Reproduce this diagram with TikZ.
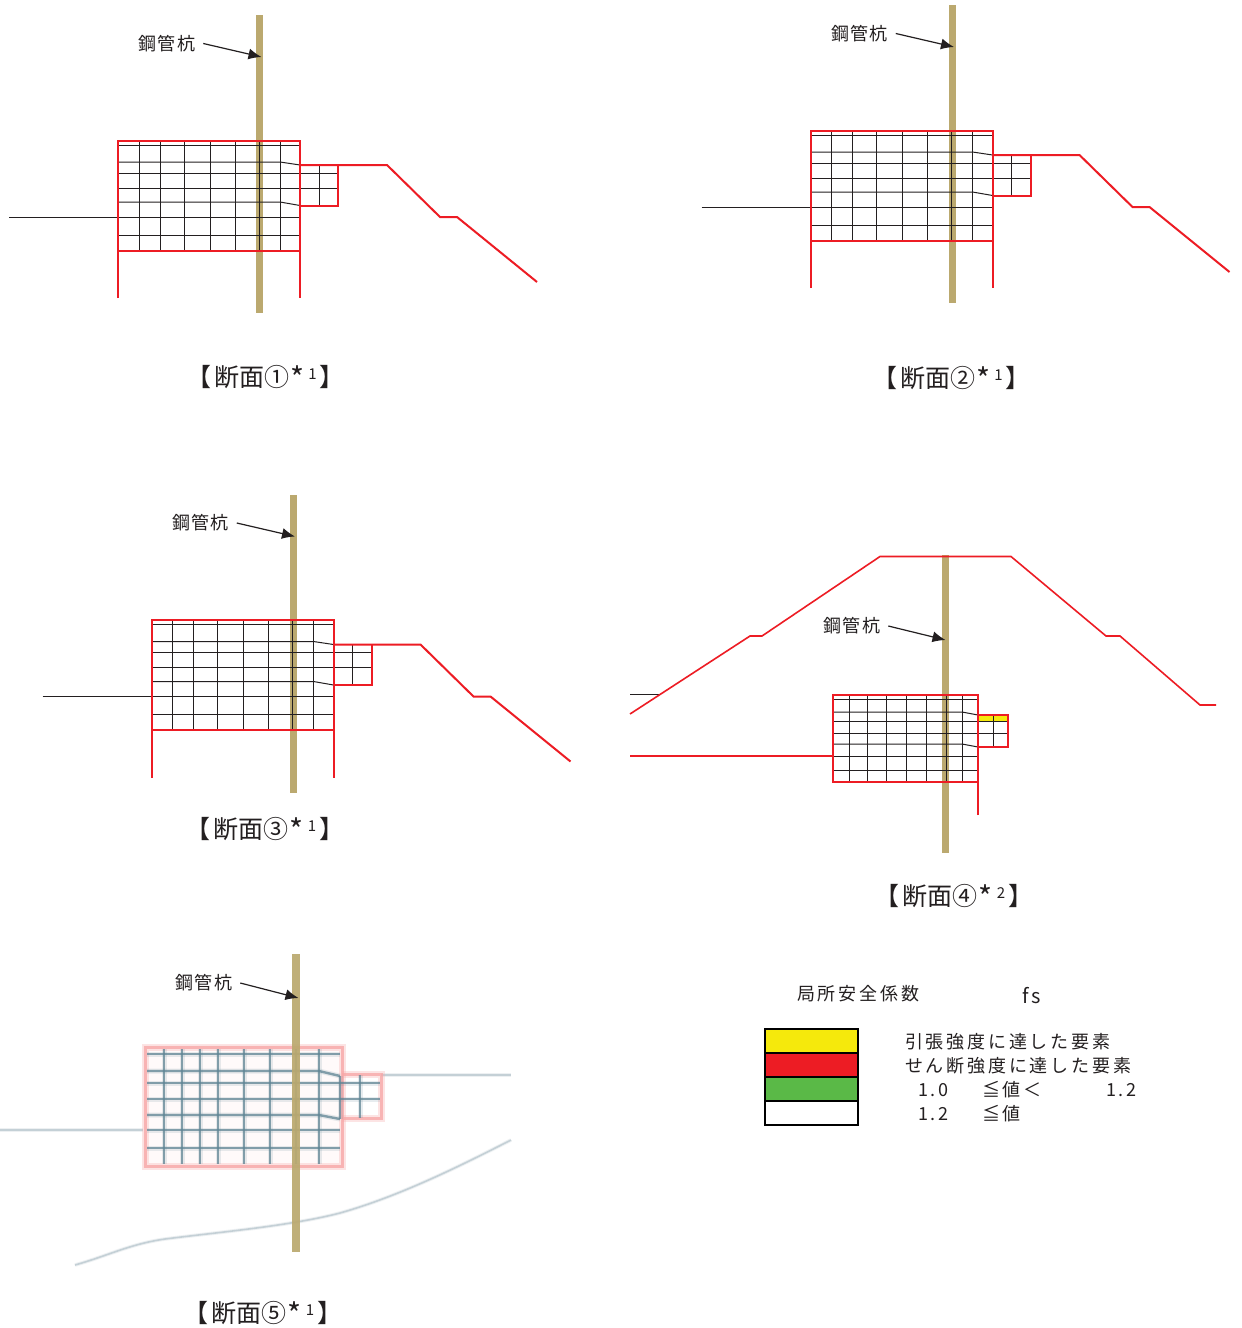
\documentclass[tikz,border=0pt]{standalone}
\usepackage{fontspec}
\usetikzlibrary{arrows.meta}
\newfontfamily\cjk[LetterSpace=6]{Noto Sans CJK JP}
\newfontfamily\cjkwide[LetterSpace=15.5]{Noto Sans CJK JP}
\newfontfamily\cjkplain{Noto Sans CJK JP}
\definecolor{pilecolor}{HTML}{BBA96F}
\definecolor{redline}{HTML}{ED1C24}
\definecolor{inkline}{HTML}{231F20}
\definecolor{fiveline}{HTML}{5F8494}
\definecolor{fivered}{HTML}{F7A8A8}
\definecolor{fiveground}{HTML}{C4D0D6}
\definecolor{legendyellow}{HTML}{F5E90C}
\definecolor{legendgreen}{HTML}{5AB947}
% cap: circled number, star number
\newcommand{\capttext}[2]{{\cjkplain 【\kern3pt 断面#1\kern1pt\raisebox{-3pt}{\fontsize{30}{30}\selectfont *}\kern4pt\raisebox{7pt}{\fontsize{15}{15}\selectfont #2}\kern3pt】}}
% sections 1 to 3 share one drawing, only shifted
\newcommand{\sectionA}[3]{%
  \begin{scope}[shift={(#1,#2)}]
    \node [pile] (pile#3) at (259.5,164) {};
    \foreach \vx in {139,160,184,210,235,259,280} {
      \draw [mesh] (\vx,140.5) -- (\vx,250.5);
    }
    \draw [mesh] (118,145) -- (300,145);
    \draw [mesh] (118,162) -- (280,162) -- (300,165);
    \draw [mesh] (118,173) -- (338,173);
    \draw [mesh] (118,188) -- (338,188);
    \draw [mesh] (118,202) -- (280,202) -- (300,205.5);
    \draw [mesh] (118,217) -- (300,217);
    \draw [mesh] (118,235) -- (300,235);
    \draw [mesh] (300,165) -- (300,205.5);
    \draw [mesh] (319,165) -- (319,205.5);
    \draw [mesh] (9,217) -- (118,217);
    \draw [soil] (118,298) -- (118,140.5) -- (300,140.5) -- (300,298);
    \draw [soil] (118,250.5) -- (300,250.5);
    \draw [soil] (300,165) -- (387,165) -- (440,217) -- (457,217) -- (537,282);
    \draw [soil] (338,165) -- (338,205.5) -- (300,205.5);
    \node [pilelabel] (label#3) at (167,43.5) {鋼管杭};
    \coordinate (tip#3) at (261.5,57);
    \draw [pointer] (label#3.east) -- (tip#3);
  \end{scope}}
\begin{document}
\begin{tikzpicture}[x=1pt,y=-1pt]
  \tikzstyle{pile}=[draw=none,fill=pilecolor,inner sep=0pt,minimum width=7pt,minimum height=298pt]
  \tikzstyle{mesh}=[draw=inkline,line width=1pt]
  \tikzstyle{soil}=[draw=redline,line width=2pt]
  \tikzstyle{pilelabel}=[font=\cjk\fontsize{18}{18}\selectfont,text=inkline,inner sep=8pt]
  \tikzstyle{pointer}=[draw=inkline,line width=1.2pt,-{Latex[length=13pt,width=11pt]}]
  \tikzstyle{caption}=[font=\fontsize{25}{25}\selectfont,text=inkline,inner sep=0pt]
  \tikzstyle{legendtext}=[font=\cjkwide\fontsize{18}{18}\selectfont,text=inkline,anchor=west,inner sep=0pt]
  \tikzstyle{legendbox}=[draw=black,line width=1.2pt,inner sep=0pt,minimum width=93pt,minimum height=24pt]
  \tikzstyle{fivemesh}=[draw=fiveline,line width=2.4pt,opacity=0.75,preaction={draw=fiveline,line width=5pt,opacity=0.15}]
  \tikzstyle{fivesoil}=[draw=fivered,line width=3pt,opacity=0.8,preaction={draw=fivered,line width=7pt,opacity=0.3}]
  \tikzstyle{fiveland}=[draw=fiveground,line width=1.6pt,preaction={draw=fiveground,line width=3.5pt,opacity=0.3}]
  \useasboundingbox (0,0) rectangle (1242,1328);
  \fill [white] (0,0) rectangle (1242,1328);

  \sectionA{0}{0}{one}
  \sectionA{692.5}{-10}{two}
  \sectionA{33.5}{479.5}{three}

  % section 4
  \node [pile] (pilefour) at (945.5,704) {};
  \fill [legendyellow] (978,714) rectangle (1008,721);
  \foreach \vx in {849,867,886,906,926,946,962} {
    \draw [mesh] (\vx,695) -- (\vx,782);
  }
  \draw [mesh] (833,699) -- (978,699);
  \draw [mesh] (833,712) -- (962,712) -- (978,715);
  \draw [mesh] (833,721) -- (1008,721);
  \draw [mesh] (833,733) -- (1008,733);
  \draw [mesh] (833,744) -- (962,744) -- (978,747);
  \draw [mesh] (833,756) -- (978,756);
  \draw [mesh] (833,770) -- (978,770);
  \draw [mesh] (978,714) -- (978,747);
  \draw [mesh] (993,714) -- (993,747);
  \draw [mesh] (630,694) -- (660,694);
  \draw [soil] (978,815) -- (978,695) -- (833,695) -- (833,782) -- (978,782);
  \draw [soil] (978,714.5) -- (1008,714.5) -- (1008,747) -- (978,747);
  \draw [soil] (630,756) -- (833,756);
  \draw [soil,line width=1.6pt] (630,714) -- (750,636) -- (762,636) -- (880,556.5) -- (1011,556.5) -- (1106,636) -- (1120,636) -- (1200,705) -- (1216,705);
  \node [pilelabel] (labelfour) at (852,626) {鋼管杭};
  \coordinate (tipfour) at (945.5,640);
  \draw [pointer] (labelfour.east) -- (tipfour);

  % section 5
  \draw [fiveland] (381,1075) -- (511,1075);
  \draw [fiveland] (0,1130) -- (145,1130);
  \draw [fiveland] (75,1265) .. controls (110,1255) and (130,1244) .. (165,1239) .. controls (220,1232) and (290,1226) .. (340,1213) .. controls (400,1196) and (460,1166) .. (511,1140);
  \fill [red!2] (143,1045) rectangle (343,1168);
  \draw [fivesoil] (145,1047) rectangle (342,1166);
  \draw [fivesoil] (342,1074) -- (381,1074) -- (381,1118) -- (342,1118);
  \foreach \vx in {164,182,200,218,244,270,296,319} {
    \draw [fivemesh] (\vx,1049) -- (\vx,1164);
  }
  \draw [fivemesh] (147,1054) -- (340,1054);
  \draw [fivemesh] (147,1071) -- (319,1071) -- (340,1076);
  \draw [fivemesh] (147,1083) -- (380,1083);
  \draw [fivemesh] (147,1099) -- (380,1099);
  \draw [fivemesh] (147,1115) -- (319,1115) -- (340,1119);
  \draw [fivemesh] (147,1130) -- (340,1130);
  \draw [fivemesh] (147,1148) -- (340,1148);
  \draw [fivemesh] (340,1076) -- (340,1119);
  \draw [fivemesh] (360,1075) -- (360,1118);
  \node [pile,minimum width=8pt,opacity=0.93] (pilefive) at (296,1102.5) {};
  \node [pilelabel] (labelfive) at (204,983) {鋼管杭};
  \coordinate (tipfive) at (298.5,998);
  \draw [pointer] (labelfive.east) -- (tipfive);

  % captions
  \node [caption] (capone) at (265.5,377) {\capttext{①}{1}};
  \node [caption] (captwo) at (951.5,378) {\capttext{②}{1}};
  \node [caption] (capthree) at (265,829) {\capttext{③}{1}};
  \node [caption] (capfour) at (954,896) {\capttext{④}{2}};
  \node [caption] (capfive) at (263,1313) {\capttext{⑤}{1}};

  % legend
  \node [legendbox,fill=legendyellow] (boxyellow) at (811.5,1041) {};
  \node [legendbox,fill=redline] (boxred) at (811.5,1065) {};
  \node [legendbox,fill=legendgreen] (boxgreen) at (811.5,1089) {};
  \node [legendbox,fill=white] (boxwhite) at (811.5,1113) {};
  \node [legendtext] (legendtitle) at (797,994) {局所安全係数};
  \node [legendtext,font=\cjkwide\fontsize{20}{20}\selectfont] (legendfs) at (1022,996) {fs};
  \node [legendtext] (rowa) at (905,1042) {引張強度に達した要素};
  \node [legendtext] (rowb) at (905,1066) {せん断強度に達した要素};
  \node [legendtext] (rowc) at (918,1090) {1.0};
  \node [legendtext] (rowcc) at (982,1090) {≦値＜};
  \node [legendtext] (rowccc) at (1106,1090) {1.2};
  \node [legendtext] (rowd) at (918,1114) {1.2};
  \node [legendtext] (rowdd) at (982,1114) {≦値};
\end{tikzpicture}
\end{document}
